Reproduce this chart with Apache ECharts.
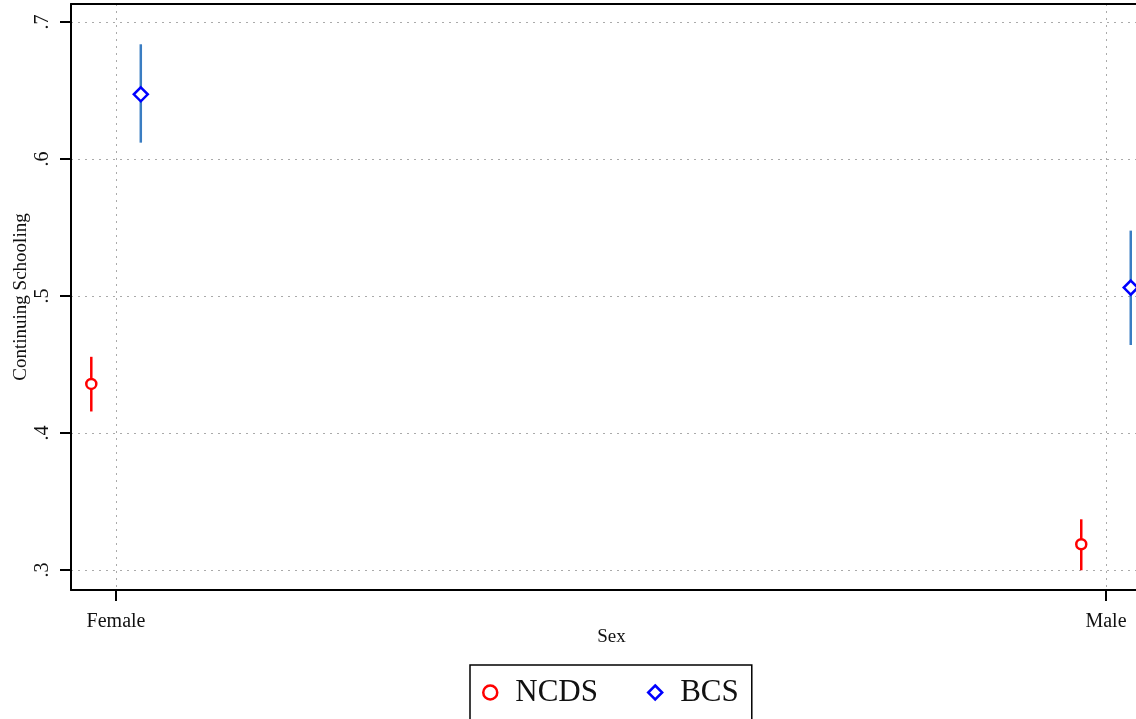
<!DOCTYPE html>
<html>
<head>
<meta charset="utf-8">
<script src="https://cdn.jsdelivr.net/npm/echarts@6/dist/echarts.min.js"></script>
<style>
  html, body { margin: 0; padding: 0; background: #fff; }
  #chart { width: 1136px; height: 719px; }
</style>
</head>
<body>
<div id="chart"></div>
<script>
const sexes = ['Female', 'Male']
const sexPos = [1, 2]
const yTicks = [0.3, 0.4, 0.5, 0.6, 0.7]
const yTickLabels = ['.3', '.4', '.5', '.6', '.7']

const ncdsMean = [0.4358, 0.3188]
const ncdsLow = [0.4157, 0.2998]
const ncdsHigh = [0.4556, 0.3370]
const bcsMean = [0.6472, 0.5061]
const bcsLow = [0.6119, 0.4642]
const bcsHigh = [0.6837, 0.5477]

const shift = 0.025
const font = 'Liberation Serif'
const red = '#ff0000'
const blue = '#0000ff'
const barBlue = '#3a7dc2'

function ciData(low, high, dx) {
  return sexPos.map((p, i) => [p + dx, low[i], high[i]])
}
function ptData(mean, dx) {
  return sexPos.map((p, i) => [p + dx, mean[i]])
}
function errorBar(color) {
  return function (params, api) {
    const a = api.coord([api.value(0), api.value(1)])
    const b = api.coord([api.value(0), api.value(2)])
    return {
      type: 'line',
      shape: { x1: a[0], y1: a[1], x2: b[0], y2: b[1] },
      style: { stroke: color, lineWidth: 2.5 }
    }
  }
}

const gridLine = { show: true, lineStyle: { color: '#aaaaaa', width: 1, type: [2, 5] } }
const xMin = 0.9545
const xMax = 2.0303

const chart = echarts.init(document.getElementById('chart'), null, { renderer: 'canvas' })
chart.setOption({
  animation: false,
  backgroundColor: '#fff',
  textStyle: { fontFamily: font },
  grid: { left: 71, right: 0, top: 4, bottom: 129, outerBoundsMode: 'none' },
  xAxis: [
    {
      type: 'value',
      min: xMin, max: xMax,
      name: 'Sex', nameLocation: 'middle', nameGap: 38, nameMoveOverlap: false,
      // the plot runs past the right edge, so its centre sits a little right
      nameTextStyle: { fontFamily: font, fontSize: 19, color: '#111', padding: [0, 0, 0, 16] },
      axisLine: { show: true, lineStyle: { color: '#000', width: 2 } },
      axisTick: { show: true, length: 11, customValues: sexPos, lineStyle: { color: '#000', width: 2 } },
      axisLabel: {
        customValues: sexPos, margin: 22,
        fontFamily: font, fontSize: 20, color: '#111',
        formatter: v => sexes[Math.round(v) - 1]
      },
      splitLine: gridLine
    },
    {
      // top frame line of the plot region
      type: 'value', position: 'top',
      min: xMin, max: xMax,
      axisLine: { show: true, lineStyle: { color: '#000', width: 2 } },
      axisTick: { show: false },
      axisLabel: { show: false },
      splitLine: { show: false }
    }
  ],
  yAxis: {
    type: 'value',
    min: 0.2854, max: 0.7131,
    name: 'Continuing Schooling', nameLocation: 'middle', nameGap: 40, nameMoveOverlap: false,
    nameTextStyle: { fontFamily: font, fontSize: 19, color: '#111' },
    axisLine: { show: true, lineStyle: { color: '#000', width: 2 } },
    axisTick: { show: true, length: 11, customValues: yTicks, lineStyle: { color: '#000', width: 2 } },
    axisLabel: {
      customValues: yTicks, rotate: 90, margin: 18,
      fontFamily: font, fontSize: 20, color: '#111',
      formatter: v => yTickLabels[yTicks.findIndex(t => Math.abs(t - v) < 1e-6)]
    },
    splitLine: gridLine
  },
  legend: {
    left: 470, top: 665,
    orient: 'horizontal',
    padding: [12, 13, 20, 12],
    borderColor: '#000', borderWidth: 1.5,
    itemWidth: 14, itemHeight: 14, itemGap: 49,
    textStyle: { fontFamily: font, fontSize: 31, color: '#111', padding: [0, 0, 0, 13] },
    data: [
      { name: 'NCDS', icon: 'circle', itemStyle: { color: '#fff', borderColor: red, borderWidth: 2.5, opacity: 1 } },
      { name: 'BCS', icon: 'diamond', itemStyle: { color: '#fff', borderColor: blue, borderWidth: 2.5, opacity: 1 } }
    ]
  },
  series: [
    {
      name: 'NCDS CI', type: 'custom', z: 2,
      renderItem: errorBar(red),
      encode: { x: 0, y: [1, 2] },
      data: ciData(ncdsLow, ncdsHigh, -shift)
    },
    {
      name: 'BCS CI', type: 'custom', z: 2,
      renderItem: errorBar(barBlue),
      encode: { x: 0, y: [1, 2] },
      data: ciData(bcsLow, bcsHigh, shift)
    },
    {
      name: 'NCDS', type: 'scatter', z: 3,
      symbol: 'circle', symbolSize: 10,
      itemStyle: { color: '#fff', borderColor: red, borderWidth: 2.5, opacity: 1 },
      data: ptData(ncdsMean, -shift)
    },
    {
      name: 'BCS', type: 'scatter', z: 3,
      symbol: 'diamond', symbolSize: 14,
      itemStyle: { color: '#fff', borderColor: blue, borderWidth: 2.5, opacity: 1 },
      data: ptData(bcsMean, shift)
    }
  ]
})
</script>
</body>
</html>
